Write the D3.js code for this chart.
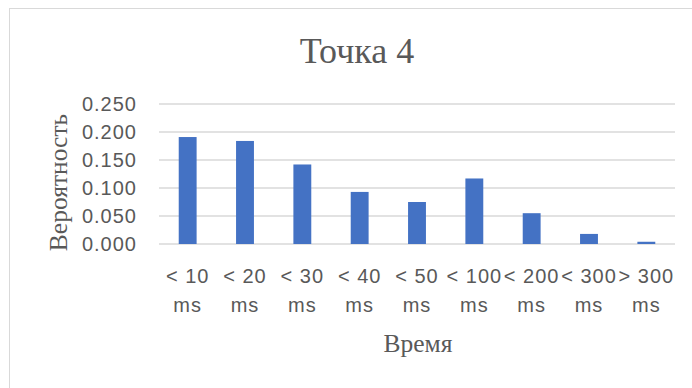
<!DOCTYPE html>
<html>
<head>
<meta charset="utf-8">
<script src="https://cdn.jsdelivr.net/npm/d3@7"></script>
<style>
  html, body { margin: 0; padding: 0; background: #fff; }
  svg { display: block; }
</style>
</head>
<body>
<svg id="chart" width="692" height="388"></svg>
<script>
// Response-time distribution for measuring point 4
const categories = ["< 10", "< 20", "< 30", "< 40", "< 50", "< 100", "< 200", "< 300", "> 300"];
const categoryUnits = ["ms", "ms", "ms", "ms", "ms", "ms", "ms", "ms", "ms"];
const probability = [0.191, 0.184, 0.142, 0.093, 0.075, 0.117, 0.055, 0.018, 0.004];
const yTicks = [0, 0.05, 0.1, 0.15, 0.2, 0.25];

const chartTitle = "Точка 4";
const xTitle = "Время";
const yTitle = "Вероятность";

const textColor = "#595959";
const gridColor = "#d9d9d9";
const barColor = "#4472c4";
const sans = "'Liberation Sans', Arial, sans-serif";
const serif = "'Liberation Serif', 'Times New Roman', serif";

const svg = d3.select("#chart");

// chart frame
svg.append("rect")
  .attr("x", 9.5).attr("y", 8.5)
  .attr("width", 700).attr("height", 400)
  .attr("fill", "none")
  .attr("stroke", "#d9d9d9")
  .attr("stroke-width", 1);

const plot = { left: 159, right: 675, top: 104, bottom: 244 };

const x = d3.scaleBand()
  .domain(categories)
  .range([plot.left, plot.right])
  .paddingInner(0.688)
  .paddingOuter(0.344);

const y = d3.scaleLinear()
  .domain([0, 0.25])
  .range([plot.bottom, plot.top]);

// horizontal gridlines
svg.append("g")
  .selectAll("line")
  .data(yTicks)
  .join("line")
  .attr("x1", plot.left).attr("x2", plot.right)
  .attr("y1", d => y(d)).attr("y2", d => y(d))
  .attr("stroke", gridColor)
  .attr("stroke-width", 1.5);

// y tick labels
svg.append("g")
  .selectAll("text")
  .data(yTicks)
  .join("text")
  .attr("x", 137)
  .attr("y", d => y(d))
  .attr("dy", "0.35em")
  .attr("text-anchor", "end")
  .attr("font-family", sans)
  .attr("font-size", 20)
  .attr("letter-spacing", 1)
  .attr("fill", textColor)
  .text(d3.format(".3f"));

// bars
svg.append("g")
  .selectAll("rect")
  .data(probability)
  .join("rect")
  .attr("x", (d, i) => x(categories[i]))
  .attr("y", d => y(d))
  .attr("width", x.bandwidth())
  .attr("height", d => y(0) - y(d))
  .attr("fill", barColor);

// category labels, two lines each
const catLabels = svg.append("g")
  .selectAll("text")
  .data(categories)
  .join("text")
  .attr("text-anchor", "middle")
  .attr("font-family", sans)
  .attr("font-size", 20)
  .attr("letter-spacing", 1)
  .attr("fill", textColor);

catLabels.append("tspan")
  .attr("x", d => x(d) + x.bandwidth() / 2)
  .attr("y", 283)
  .text(d => d);

catLabels.append("tspan")
  .attr("x", d => x(d) + x.bandwidth() / 2)
  .attr("y", 312)
  .text((d, i) => categoryUnits[i]);

// chart title
svg.append("text")
  .attr("x", 357)
  .attr("y", 63)
  .attr("text-anchor", "middle")
  .attr("font-family", serif)
  .attr("font-size", 36)
  .attr("fill", textColor)
  .text(chartTitle);

// axis titles
svg.append("text")
  .attr("x", 418)
  .attr("y", 352)
  .attr("text-anchor", "middle")
  .attr("font-family", serif)
  .attr("font-size", 25.5)
  .attr("fill", textColor)
  .text(xTitle);

svg.append("text")
  .attr("transform", "translate(67,182.5) rotate(-90)")
  .attr("text-anchor", "middle")
  .attr("font-family", serif)
  .attr("font-size", 25.5)
  .attr("fill", textColor)
  .text(yTitle);
</script>
</body>
</html>
